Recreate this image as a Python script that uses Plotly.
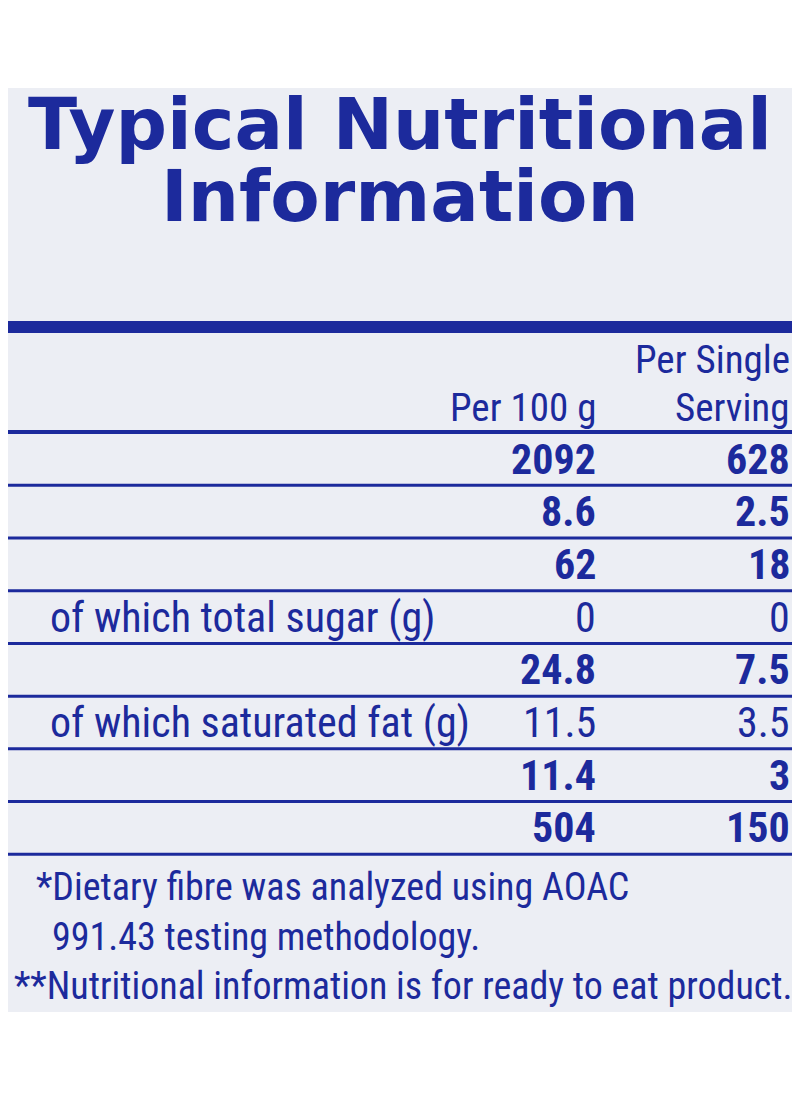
import plotly.graph_objects as go

title_lines = ["Typical Nutritional", "Information"]
sub_lines = ["Single serving size expressed in g", "Serving Size: 30 g popped"]
col_headers = ["Per 100 g", "Per Single", "Serving"]
nutrients = ["Energy (kJ)", "Protein (g)", "Glycaemic Carbohydrate (g)", "of which total sugar (g)",
             "Total Fat (g)", "of which saturated fat (g)", "Dietary Fibre*(g)", "Total Sodium (mg)"]
per100 = ["2092", "8.6", "62", "0", "24.8", "11.5", "11.4", "504"]
per_serving = ["628", "2.5", "18", "0", "7.5", "3.5", "3", "150"]
is_sub = [False, False, False, True, False, True, False, False]
footnotes = ["*Dietary fibre was analyzed using AOAC", "991.43 testing methodology.",
             "**Nutritional information is for ready to eat product."]

BLUE = "#1c2a9c"
NARROW = "Liberation Sans Narrow, Roboto Condensed, Liberation Sans, Arial"
fig = go.Figure()
shapes = [dict(type="rect", x0=0, x1=800, y0=88, y1=1012, fillcolor="#eceef4", line_width=0, layer="below")]
ann = []
def A(x, y, t, size, bold=False, anchor="left", font=NARROW):
    ann.append(dict(x=x, y=y, xref="x", yref="y", text=f"<b>{t}</b>" if bold else t, showarrow=False,
                    xanchor=anchor, yanchor="middle", font=dict(family=font, size=size, color=BLUE)))

A(400, 124, title_lines[0], 72, True, "center", "DejaVu Sans, Verdana")
A(400, 196, title_lines[1], 72, True, "center", "DejaVu Sans, Verdana")
A(6, 250, sub_lines[0], 39, False, "left", "Liberation Sans, Arial")
A(6, 296, sub_lines[1], 39, False, "left", "Liberation Sans, Arial")
shapes.append(dict(type="rect", x0=0, x1=800, y0=321, y1=333, fillcolor=BLUE, line_width=0))
A(598, 408, col_headers[0], 39, False, "right")
A(792, 360, col_headers[1], 39, False, "right")
A(792, 408, col_headers[2], 39, False, "right")
shapes.append(dict(type="line", x0=0, x1=800, y0=432, y1=432, line=dict(color=BLUE, width=4)))
row0, step = 459, 52.7
for i, n in enumerate(nutrients):
    y = row0 + i * step
    sub = is_sub[i]
    A(48 if sub else 6, y, n, 42, not sub)
    A(598, y, per100[i], 42, not sub, "right")
    A(792, y, per_serving[i], 42, not sub, "right")
    yl = y + step / 2
    shapes.append(dict(type="line", x0=0, x1=800, y0=yl, y1=yl, line=dict(color=BLUE, width=3)))
A(34, 887, footnotes[0], 38)
A(50, 937, footnotes[1], 38)
A(12, 986, footnotes[2], 38)

fig.update_layout(width=784, height=1084, margin=dict(l=0, r=0, t=0, b=0),
                  paper_bgcolor="white", plot_bgcolor="white", shapes=shapes, annotations=ann,
                  xaxis=dict(range=[8, 792], visible=False, fixedrange=True),
                  yaxis=dict(range=[1092, 8], visible=False, fixedrange=True), showlegend=False)
fig.write_html("out.html")
